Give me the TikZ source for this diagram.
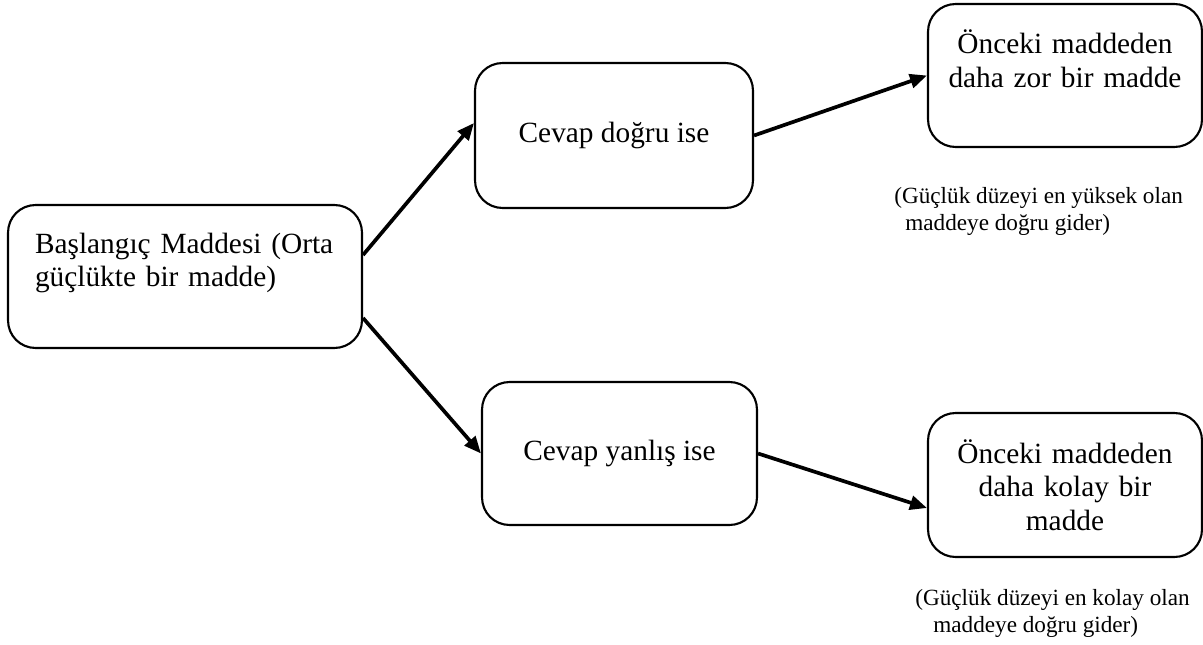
\documentclass[tikz,border=0pt]{standalone}
\usepackage{fontspec}
\setmainfont{Liberation Serif}
\usetikzlibrary{arrows.meta}

\tikzset{
  kutu/.style={draw, line width=1.2pt, rounded corners=0.55cm, minimum width=5.5cm,
    minimum height=2.86cm, font=\fontsize{16.7}{19}\selectfont, align=center},
  ok/.style={line width=2.1pt, -{Triangle[length=0.34cm,width=0.28cm]}},
  aciklama/.style={font=\fontsize{13.2}{15.4}\selectfont, align=left, inner sep=0pt, anchor=north west}
}

\begin{document}
\begin{tikzpicture}[x=0.02cm,y=-0.02cm]
  \useasboundingbox (0,0) rectangle (1203,645);
  \node[kutu, minimum width=7.08cm, text width=6cm, align=left] (baslangic) at (185,276.5)
    {Başlangıç Maddesi (Orta\\güçlükte bir madde)\\\mbox{}};
  \node[kutu, minimum width=5.56cm, minimum height=2.9cm] (dogru) at (614,135.5) {Cevap doğru ise};
  \node[kutu] (yanlis) at (619.5,453.5) {Cevap yanlış ise};
  \node[kutu, minimum width=5.48cm, text width=5cm] (zor) at (1065,75.5)
    {Önceki maddeden\\daha zor bir madde\\\mbox{}};
  \node[kutu, minimum width=5.48cm, minimum height=2.88cm, text width=5cm] (kolay) at (1065,485)
    {Önceki maddeden\\daha kolay bir\\madde};
  \node[aciklama] (zornot) at (894,187) {(Güçlük düzeyi en yüksek olan\\\hspace*{0.22cm}maddeye doğru gider)};
  \node[aciklama] (kolaynot) at (915,589) {(Güçlük düzeyi en kolay olan\\\hspace*{0.36cm}maddeye doğru gider)};
  \draw[ok] ([yshift=0.43cm]baslangic.east) -- ([yshift=0.25cm]dogru.west);
  \draw[ok] ([yshift=-0.83cm]baslangic.east) -- (yanlis.west);
  \draw[ok] (dogru.east) -- (zor.west);
  \draw[ok] (yanlis.east) -- ([yshift=-0.46cm]kolay.west);
\end{tikzpicture}
\end{document}
